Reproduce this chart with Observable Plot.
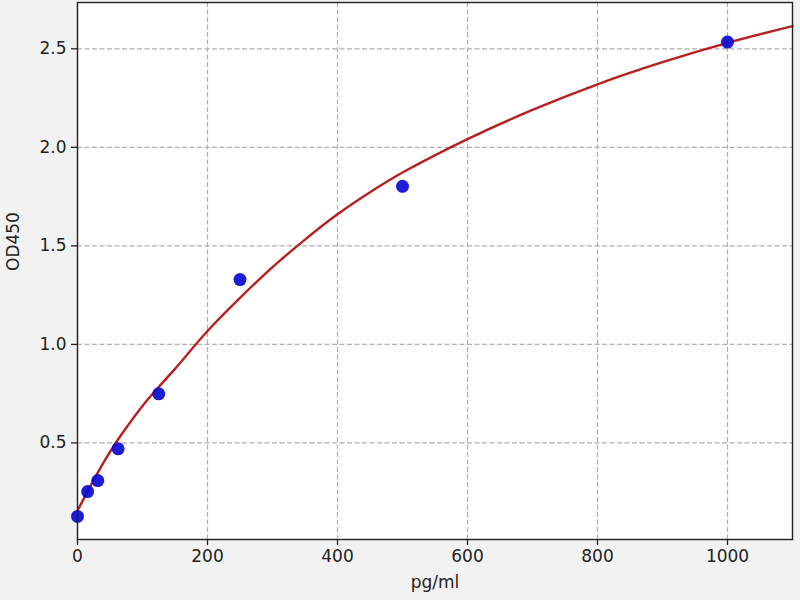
<!DOCTYPE html>
<html>
<head>
<meta charset="utf-8">
<script src="https://cdn.jsdelivr.net/npm/d3@7"></script>
<script src="https://cdn.jsdelivr.net/npm/@observablehq/plot@0.6"></script>
<style>
  html, body { margin: 0; padding: 0; background: #f2f2f2; }
  #chart svg { display: block; }
</style>
</head>
<body>
<div id="chart"></div>
<script>
// Standard points (concentration pg/ml, OD450)
const stdConc = [0, 15.625, 31.25, 62.5, 125, 250, 500, 1000];
const stdOD   = [0.127, 0.253, 0.309, 0.47, 0.749, 1.329, 1.802, 2.534];

// Fitted curve, values
const curveConc = [0, 20, 40, 60, 80, 100, 125, 150, 200, 250, 300, 350, 400, 450, 500, 600, 700, 800, 900, 1000, 1100];
const curveOD   = [0.156, 0.282, 0.40, 0.506, 0.60, 0.688, 0.784, 0.876, 1.068, 1.236, 1.392, 1.532, 1.66, 1.772, 1.872, 2.042, 2.19, 2.32, 2.432, 2.53, 2.615];

// Axis ticks
const xTicks = [0, 200, 400, 600, 800, 1000];
const yTicks = [0.5, 1.0, 1.5, 2.0, 2.5];

const points = stdConc.map((x, i) => ({x, y: stdOD[i]}));
const curve = curveConc.map((x, i) => ({x, y: curveOD[i]}));

const chart = Plot.plot({
  width: 800,
  height: 600,
  marginLeft: 77,
  marginRight: 8,
  marginTop: 2,
  marginBottom: 61,
  style: {background: "#f2f2f2", fontFamily: "DejaVu Sans", fontSize: "17px", color: "#222"},
  x: {domain: [0, 1100], label: null},
  y: {domain: [0.01, 2.735], label: null},
  marks: [
    Plot.frame({fill: "white", stroke: "none"}),
    Plot.gridX(xTicks, {stroke: "#b0b0b0", strokeOpacity: 1, strokeWidth: 1.2, strokeDasharray: "5,2.5"}),
    Plot.gridY(yTicks, {stroke: "#b0b0b0", strokeOpacity: 1, strokeWidth: 1.2, strokeDasharray: "5,2.5"}),
    Plot.axisX({ticks: xTicks, tickSize: 6, tickPadding: 4, tickFormat: d3.format("d"), label: null, fontSize: 17, strokeWidth: 1.3}),
    Plot.axisY({ticks: yTicks, tickSize: 6, tickPadding: 5, tickFormat: d3.format(".1f"), label: null, fontSize: 17, strokeWidth: 1.3}),
    Plot.line(curve, {x: "x", y: "y", curve: "catmull-rom", stroke: "#b81f1f", strokeWidth: 2.4}),
    Plot.dot(points, {x: "x", y: "y", r: 6.5, fill: "#0a0ad2", fillOpacity: 0.92, stroke: "none"}),
    Plot.frame({stroke: "#222", strokeWidth: 1.4}),
    Plot.text(["pg/ml"], {frameAnchor: "bottom", dy: 48, text: d => d, fontSize: 17, fill: "#222"}),
    Plot.text(["OD450"], {frameAnchor: "left", dx: -64, rotate: -90, text: d => d, fontSize: 17, fill: "#222"})
  ]
});
document.getElementById("chart").appendChild(chart);
</script>
</body>
</html>
